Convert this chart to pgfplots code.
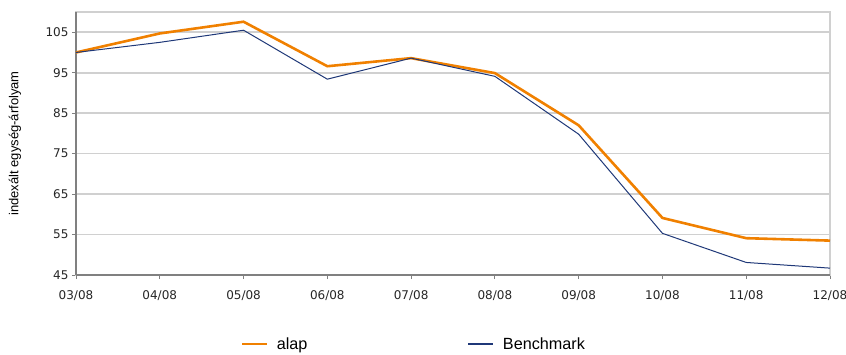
\documentclass[border=0pt]{standalone}
\usepackage{fontspec}
\setmainfont{Liberation Sans}
\newfontfamily\tickfont{DejaVu Sans}
\usepackage{pgfplots}
\pgfplotsset{compat=1.18}
\definecolor{alapc}{RGB}{240,128,0}
\definecolor{benchc}{RGB}{31,56,120}
\definecolor{gridc}{RGB}{208,208,208}
\definecolor{axc}{RGB}{128,128,128}
\begin{document}
\begin{tikzpicture}
\useasboundingbox (-76pt,-79pt) rectangle (770pt,275pt);
\begin{axis}[
  scale only axis,
  width=754pt, height=263pt,
  xmin=0, xmax=9, ymin=45, ymax=110,
  xtick={0,...,9},
  xticklabels={03/08,04/08,05/08,06/08,07/08,08/08,09/08,10/08,11/08,12/08},
  ytick={45,55,65,75,85,95,105},
  /pgf/number format/assume math mode=true,
  tick label style={font=\tickfont\fontsize{12}{14}\selectfont, text=black!85},
  xticklabel style={yshift=-8pt},
  tick pos=left, tick align=outside,
  major tick length=4pt,
  tick style={draw=axc, line width=0.8pt},
  ymajorgrids,
  grid style={draw=gridc, line width=1.6pt},
  axis line style={draw=gridc, line width=1.6pt},
  ylabel={indexált egység-árfolyam},
  ylabel style={at={(axis description cs:-0.0809,0.5)}, anchor=center, font=\fontsize{13}{15}\selectfont},
  legend style={at={(axis description cs:0.219,-0.262)}, anchor=west, draw=none, fill=none, inner sep=0pt,
    legend columns=2, font=\fontsize{16.2}{18}\selectfont,
    /tikz/every odd column/.append style={column sep=7pt},
    /tikz/every even column/.append style={column sep=158pt}},
  legend cell align=left,
  legend image code/.code={\draw[#1, line width=1.5pt] (0pt,0pt) -- (25pt,0pt);},
  clip=false,
]
\draw[axc, line width=1.2pt] (rel axis cs:0,0) -- (rel axis cs:0,1);
\draw[axc, line width=1.2pt] (rel axis cs:0,0) -- (rel axis cs:1,0);
\addplot[alapc, line width=2.6pt, line join=round] coordinates {
 (0,100) (1,104.7) (2,107.6) (3,96.6) (4,98.6) (5,94.9) (6,82) (7,59.1) (8,54.1) (9,53.5)};
\addlegendentry{alap}
\addplot[benchc, line width=1pt, line join=round] coordinates {
 (0,100) (1,102.5) (2,105.5) (3,93.4) (4,98.6) (5,94.1) (6,79.8) (7,55.3) (8,48.1) (9,46.7)};
\addlegendentry{Benchmark}
\end{axis}
\end{tikzpicture}
\end{document}
